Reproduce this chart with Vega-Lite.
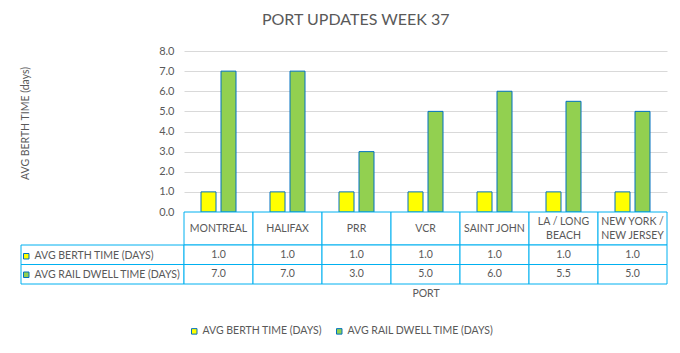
{
  "$schema": "https://vega.github.io/schema/vega-lite/v6.json",
  "background": "white",
  "padding": {"left": 20, "top": 12, "right": 5, "bottom": 5},
  "title": {"text": "PORT UPDATES WEEK 37", "fontSize": 16, "fontWeight": "normal", "color": "#595959", "anchor": "middle", "offset": 17, "dx": 12},
  "datasets": {
    "bars": [
      {"port": "MONTREAL", "series": "AVG BERTH TIME (DAYS)", "value": 1.0},
      {"port": "MONTREAL", "series": "AVG RAIL DWELL TIME (DAYS)", "value": 7.0},
      {"port": "HALIFAX", "series": "AVG BERTH TIME (DAYS)", "value": 1.0},
      {"port": "HALIFAX", "series": "AVG RAIL DWELL TIME (DAYS)", "value": 7.0},
      {"port": "PRR", "series": "AVG BERTH TIME (DAYS)", "value": 1.0},
      {"port": "PRR", "series": "AVG RAIL DWELL TIME (DAYS)", "value": 3.0},
      {"port": "VCR", "series": "AVG BERTH TIME (DAYS)", "value": 1.0},
      {"port": "VCR", "series": "AVG RAIL DWELL TIME (DAYS)", "value": 5.0},
      {"port": "SAINT JOHN", "series": "AVG BERTH TIME (DAYS)", "value": 1.0},
      {"port": "SAINT JOHN", "series": "AVG RAIL DWELL TIME (DAYS)", "value": 6.0},
      {"port": "LA / LONG BEACH", "series": "AVG BERTH TIME (DAYS)", "value": 1.0},
      {"port": "LA / LONG BEACH", "series": "AVG RAIL DWELL TIME (DAYS)", "value": 5.5},
      {"port": "NEW YORK / NEW JERSEY", "series": "AVG BERTH TIME (DAYS)", "value": 1.0},
      {"port": "NEW YORK / NEW JERSEY", "series": "AVG RAIL DWELL TIME (DAYS)", "value": 5.0}
    ],
    "ports": [
      {"port": "MONTREAL", "label": "MONTREAL"},
      {"port": "HALIFAX", "label": "HALIFAX"},
      {"port": "PRR", "label": "PRR"},
      {"port": "VCR", "label": "VCR"},
      {"port": "SAINT JOHN", "label": "SAINT JOHN"},
      {"port": "LA / LONG BEACH", "label": "LA / LONG\nBEACH"},
      {"port": "NEW YORK / NEW JERSEY", "label": "NEW YORK /\nNEW JERSEY"}
    ],
    "series": [
      {"series": "AVG BERTH TIME (DAYS)"},
      {"series": "AVG RAIL DWELL TIME (DAYS)"}
    ]
  },
  "columns": 2,
  "spacing": 0,
  "bounds": "flush",
  "resolve": {"scale": {"color": "independent"}, "legend": {"color": "independent"}},
  "concat": [
    {
      "width": 163, "height": 161,
      "data": {"values": [{}]},
      "mark": {"type": "text"},
      "encoding": {"text": {"value": ""}}
    },
    {
      "width": 483, "height": 161,
      "data": {"name": "bars"},
      "mark": {"type": "bar", "stroke": "#0070C0", "strokeWidth": 1},
      "encoding": {
        "x": {"field": "port", "type": "nominal", "sort": null, "scale": {"domain": ["MONTREAL", "HALIFAX", "PRR", "VCR", "SAINT JOHN", "LA / LONG BEACH", "NEW YORK / NEW JERSEY"], "paddingInner": 0, "paddingOuter": 0}, "axis": null},
        "xOffset": {"field": "series", "type": "nominal", "sort": null, "scale": {"domain": ["AVG BERTH TIME (DAYS)", "AVG RAIL DWELL TIME (DAYS)"], "paddingInner": 0.25, "paddingOuter": 0.85}},
        "y": {"field": "value", "type": "quantitative", "scale": {"domain": [0, 8], "nice": false},
          "axis": {"values": [0, 1, 2, 3, 4, 5, 6, 7, 8], "format": ".1f", "title": "AVG BERTH TIME (days)", "ticks": false, "domain": false, "grid": true, "gridColor": "#D9D9D9", "labelPadding": 10, "labelColor": "#595959", "labelFontSize": 11, "titleFontSize": 10.5, "titleFontWeight": "normal", "titleColor": "#595959", "titleX": -156, "titleY": 72, "titleBaseline": "alphabetic", "titleAngle": -90, "titleAlign": "center"}},
        "color": {"field": "series", "type": "nominal", "scale": {"domain": ["AVG BERTH TIME (DAYS)", "AVG RAIL DWELL TIME (DAYS)"], "range": ["#FFFF00", "#92D050"]},
          "legend": {"orient": "none", "direction": "horizontal", "legendX": 5, "legendY": 275, "title": null, "symbolType": "square", "symbolSize": 30, "symbolStrokeColor": "#0070C0", "symbolStrokeWidth": 1, "symbolOpacity": 1, "labelFontSize": 10.5, "labelColor": "#595959", "labelOffset": 3, "columnPadding": 12, "labelLimit": 300, "padding": 0}}
      }
    },
    {
      "width": 163, "height": 33,
      "data": {"values": [{}]},
      "mark": {"type": "text"},
      "encoding": {"text": {"value": ""}}
    },
    {
      "width": 483, "height": 33,
      "data": {"name": "ports"},
      "encoding": {
        "x": {"field": "port", "type": "nominal", "sort": null, "scale": {"domain": ["MONTREAL", "HALIFAX", "PRR", "VCR", "SAINT JOHN", "LA / LONG BEACH", "NEW YORK / NEW JERSEY"], "paddingInner": 0, "paddingOuter": 0}, "axis": null}
      },
      "layer": [
        {"mark": {"type": "rect", "fill": "white", "stroke": "#00B0F0", "strokeWidth": 1}},
        {
          "transform": [{"filter": "indexof(datum.label, '\\n') < 0"}],
          "mark": {"type": "text", "fontSize": 10.5, "color": "#595959", "baseline": "middle"},
          "encoding": {"text": {"field": "label", "type": "nominal"}}
        },
        {
          "transform": [{"filter": "indexof(datum.label, '\\n') >= 0"}],
          "mark": {"type": "text", "fontSize": 10.5, "color": "#595959", "lineBreak": "\n", "lineHeight": 14, "baseline": "middle", "dy": -7},
          "encoding": {"text": {"field": "label", "type": "nominal"}}
        }
      ]
    },
    {
      "width": 163, "height": 39,
      "data": {"name": "series"},
      "encoding": {
        "y": {"field": "series", "type": "nominal", "sort": null, "scale": {"domain": ["AVG BERTH TIME (DAYS)", "AVG RAIL DWELL TIME (DAYS)"], "paddingInner": 0, "paddingOuter": 0}, "axis": null}
      },
      "layer": [
        {"mark": {"type": "rect", "fill": "white", "stroke": "#00B0F0", "strokeWidth": 1}},
        {
          "transform": [{"filter": "false"}],
          "mark": {"type": "point", "shape": "square", "filled": true},
          "encoding": {
            "color": {"field": "series", "type": "nominal", "scale": {"domain": ["AVG BERTH TIME (DAYS)", "AVG RAIL DWELL TIME (DAYS)"], "range": ["#FFFF00", "#92D050"]},
              "legend": {"orient": "none", "legendX": 0, "legendY": 6, "direction": "vertical", "title": null, "symbolType": "square", "symbolSize": 30, "symbolStrokeColor": "#0070C0", "symbolStrokeWidth": 1, "symbolOpacity": 1, "labelFontSize": 10.5, "labelColor": "#595959", "labelOffset": 3, "rowPadding": 7.5, "labelLimit": 300, "padding": 0}}
          }
        }
      ]
    },
    {
      "width": 483, "height": 39,
      "data": {"name": "bars"},
      "encoding": {
        "x": {"field": "port", "type": "nominal", "sort": null, "scale": {"domain": ["MONTREAL", "HALIFAX", "PRR", "VCR", "SAINT JOHN", "LA / LONG BEACH", "NEW YORK / NEW JERSEY"], "paddingInner": 0, "paddingOuter": 0},
          "axis": {"title": "PORT", "labels": false, "ticks": false, "domain": false, "titlePadding": 4, "titleFontSize": 10.5, "titleFontWeight": "normal", "titleColor": "#595959"}},
        "y": {"field": "series", "type": "nominal", "sort": null, "scale": {"domain": ["AVG BERTH TIME (DAYS)", "AVG RAIL DWELL TIME (DAYS)"], "paddingInner": 0, "paddingOuter": 0}, "axis": null}
      },
      "layer": [
        {"mark": {"type": "rect", "fill": "white", "stroke": "#00B0F0", "strokeWidth": 1}},
        {"mark": {"type": "text", "fontSize": 10.5, "color": "#595959"}, "encoding": {"text": {"field": "value", "type": "quantitative", "format": ".1f"}}}
      ]
    }
  ],
  "config": {
    "font": "Lato",
    "view": {"stroke": null}
  }
}
